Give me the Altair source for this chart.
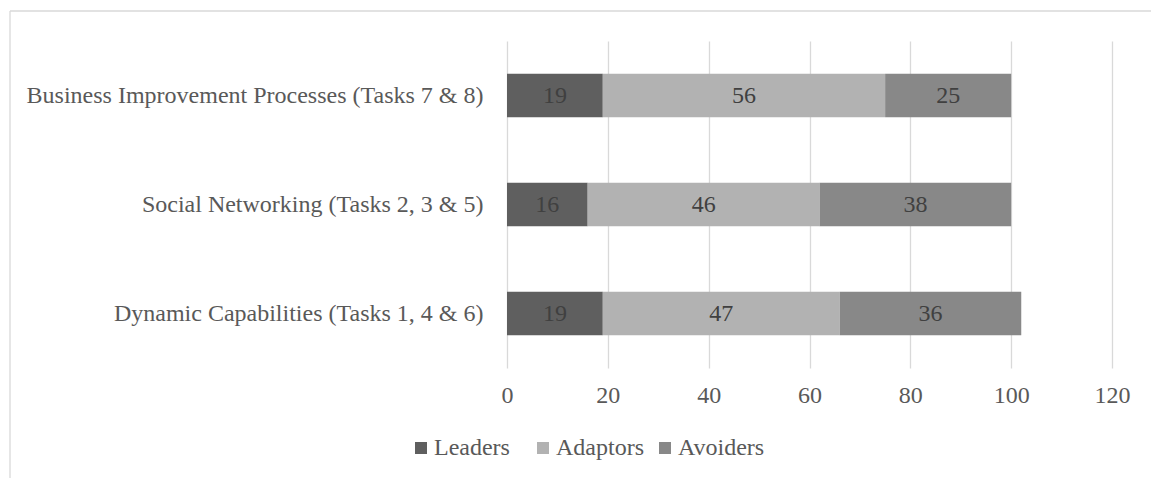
import altair as alt
import pandas as pd

categories = [
    "Business Improvement Processes (Tasks 7 & 8)",
    "Social Networking (Tasks 2, 3 & 5)",
    "Dynamic Capabilities (Tasks 1, 4 & 6)",
]
groups = ["Leaders", "Adaptors", "Avoiders"]
leaders = [19, 16, 19]
adaptors = [56, 46, 47]
avoiders = [25, 38, 36]
colors = ["#5f5f5f", "#b2b2b2", "#888888"]
x_ticks = [0, 20, 40, 60, 80, 100, 120]

rows = []
for i, c in enumerate(categories):
    for j, (g, vals) in enumerate(zip(groups, [leaders, adaptors, avoiders])):
        rows.append({"category": c, "group": g, "order": j, "value": vals[i]})
df = pd.DataFrame(rows)

FONT = "Liberation Serif"
TEXT = "#595959"

y_enc = alt.Y(
    "category:N",
    sort=categories,
    title=None,
    scale=alt.Scale(paddingInner=0.6, paddingOuter=0.3),
    axis=alt.Axis(
        domain=False, ticks=False, grid=False, labelPadding=24,
        labelFont=FONT, labelFontSize=24, labelColor=TEXT, labelLimit=600,
    ),
)

base = alt.Chart(df)

bars = base.mark_bar().encode(
    x=alt.X(
        "value:Q",
        stack="zero",
        scale=alt.Scale(domain=[0, 120], nice=False),
        title=None,
        axis=alt.Axis(
            values=x_ticks, domain=False, ticks=False, grid=True,
            gridColor="#d9d9d9", gridWidth=1.3, labelPadding=15,
            labelFlush=False,
            labelFont=FONT, labelFontSize=24, labelColor=TEXT,
        ),
    ),
    y=y_enc,
    color=alt.Color(
        "group:N",
        scale=alt.Scale(domain=groups, range=colors),
        legend=alt.Legend(
            title=None, orient="none", legendX=-98, legendY=395,
            direction="horizontal", columns=3, symbolType="square",
            symbolSize=144, symbolStrokeWidth=0, labelFont=FONT,
            labelFontSize=24, labelColor=TEXT, columnPadding=9,
            labelOffset=1, padding=0, gridAlign="all",
        ),
    ),
    order=alt.Order("order:Q"),
)

labels = (
    base.transform_stack(
        stack="value", groupby=["category"], as_=["v0", "v1"],
        sort=[alt.SortField("order")],
    )
    .transform_calculate(mid="(datum.v0 + datum.v1) / 2")
    .mark_text(font=FONT, fontSize=24, color="#404040", baseline="middle")
    .encode(x=alt.X("mid:Q"), y=y_enc, text="value:Q")
)

frame_df = pd.DataFrame({"k": [0]})
frame_top = alt.Chart(frame_df).mark_rule(color="#d9d9d9", strokeWidth=1.3).encode(
    x=alt.value(-497), x2=alt.value(660), y=alt.value(-30)
)
frame_left = alt.Chart(frame_df).mark_rule(color="#d9d9d9", strokeWidth=1.3).encode(
    x=alt.value(-497), y=alt.value(-30), y2=alt.value(520)
)

chart = (
    alt.layer(frame_top, frame_left, bars, labels)
    .properties(
        width=605, height=327,
        autosize=alt.AutoSizeParams(type="none"),
        padding={"left": 507, "top": 41, "right": 39, "bottom": 110},
        background="white",
    )
    .configure_view(stroke=None)
)

chart.save("out.html", embed_options={"renderer": "svg", "actions": False})
